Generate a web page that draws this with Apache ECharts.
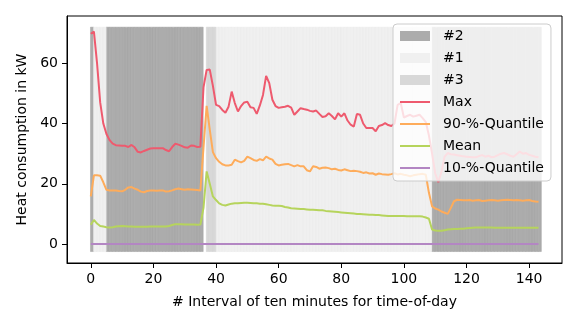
<!DOCTYPE html>
<html>
<head>
<meta charset="utf-8">
<script src="https://cdn.jsdelivr.net/npm/echarts@6/dist/echarts.min.js"></script>
<style>
html,body{margin:0;padding:0;background:#fff;}
#chart{width:581px;height:327px;}
</style>
</head>
<body>
<div id="chart"></div>
<script>
// x positions: interval index of ten minutes (0..143)
const intervals = [
  0,1,2,3,4,5,6,7,8,9,10,11,12,13,14,15,16,17,18,19,20,21,22,23,
  24,25,26,27,28,29,30,31,32,33,34,35,36,37,38,39,40,41,42,43,44,45,46,47,
  48,49,50,51,52,53,54,55,56,57,58,59,60,61,62,63,64,65,66,67,68,69,70,71,
  72,73,74,75,76,77,78,79,80,81,82,83,84,85,86,87,88,89,90,91,92,93,94,95,
  96,97,98,99,100,101,102,103,104,105,106,107,108,109,110,111,112,113,114,115,116,117,118,119,
  120,121,122,123,124,125,126,127,128,129,130,131,132,133,134,135,136,137,138,139,140,141,142,143
];

// cluster of each interval (0 = none)
const clusterOf = [
  2,1,1,1,1,2,2,2,2,2,2,2,2,2,2,2,2,2,2,2,2,2,2,2,
  2,2,2,2,2,2,2,2,2,2,2,2,0,3,3,3,1,1,1,1,1,1,1,1,
  1,1,1,1,1,1,1,1,1,1,1,1,1,1,1,1,1,1,1,1,1,1,1,1,
  1,1,1,1,1,1,1,1,1,1,1,1,1,1,1,1,1,1,1,1,1,1,1,1,
  1,1,1,1,1,1,1,1,1,1,1,1,1,2,2,2,2,2,2,2,2,2,2,2,
  2,2,2,2,2,2,2,2,2,2,2,2,2,2,2,2,2,2,2,2,2,2,2,2
];
const bandTop = 72;
const bandBottom = -2.5;

const maxVals = [
  69.8,70.5,60,47,40,36.5,34.5,33.3,32.8,32.7,32.6,32.6,32.2,32.9,32.1,30.6,30.4,30.9,31.3,31.7,31.8,31.8,31.8,31.8,
  31.2,30.8,32.2,33.3,33,32.6,32.1,32,32.7,32.6,32.2,32.3,52,57.8,57.9,52.5,46.2,45.8,44.5,43.6,45.6,50.6,46.8,44,
  45.8,47,47.2,45.4,45.2,43.2,46,49.5,55.8,53.4,47.9,45.8,45.2,45.4,45.6,45.9,45.3,42.9,44,45.1,44.8,44.6,44.2,44,
  44.3,43.2,42.2,42.4,43.4,42.5,41.4,43.4,42.3,43.4,41,39.6,39,43.2,42.9,40,38.5,38.5,38.5,37.4,39.2,39.5,40.1,39.5,
  39.2,40,46.2,46.8,42,42.5,42.9,42.3,42.6,42.9,41.8,40.5,36,30,23.5,20.5,24,29,30.2,29.8,29.7,29.5,29.3,29.1,
  29,28.9,28.8,28.8,29.2,29.5,29,29.3,28.8,29,29.5,30,30.2,29.8,29.3,29,29.8,30.7,30,30.2,29.6,29.3,29,28.8
];
const q90Vals = [
  15.8,22.8,22.8,22.7,20.5,18,17.8,17.8,17.8,17.6,17.5,18,18.8,18.9,18.4,18,17.4,17.2,17.6,17.8,17.8,17.7,17.8,17.8,
  17.4,17.5,17.8,18.2,18.4,18.2,18,18.2,18.1,18,17.9,17.8,32,45.9,38,30.5,28.5,27.3,26.5,26.1,26.1,26.3,28,27.5,
  27.1,27.6,29,28.5,27.9,27.6,28.2,27.8,29,28.4,28,26.6,26.1,26.3,26.5,26.6,26.2,25.8,26.2,25.8,25.8,24.5,24.1,25.8,
  25.6,25,25.3,25.4,25.2,24.8,25,24.6,24.4,24.8,24.5,24.2,24.3,24.2,24,23.6,23.8,23.4,23.5,23,23.4,23.2,23.1,23,
  23.2,23.5,23.1,23.3,23,22.8,22.5,22.8,23,23.2,23.3,23,17,12.5,11.8,11.4,10.8,10.4,10,12,14.2,14.7,14.6,14.5,
  14.5,14.6,14.4,14.5,14.6,14.3,14.4,14.5,14.6,14.5,14.4,14.5,14.6,14.7,14.6,14.5,14.6,14.5,14.4,14.5,14.6,14.3,14.1,14
];
const meanVals = [
  6.4,8,6.8,6,5.8,5.6,5.5,5.6,5.8,5.9,6,5.9,5.8,5.8,5.7,5.7,5.7,5.7,5.7,5.8,5.8,5.8,5.8,5.8,
  5.8,6,6.3,6.6,6.6,6.6,6.5,6.5,6.5,6.5,6.4,6.5,12,24.1,20,15.8,14.6,13.5,13,12.8,13.1,13.4,13.5,13.5,
  13.6,13.7,13.7,13.6,13.5,13.5,13.4,13.4,13.2,13,12.8,12.7,12.7,12.6,12.3,12.1,11.9,11.8,11.7,11.6,11.6,11.5,11.4,11.4,
  11.3,11.2,11.2,11,10.9,10.8,10.7,10.6,10.5,10.4,10.3,10.2,10.1,10,10,9.9,9.8,9.7,9.7,9.6,9.6,9.5,9.4,9.3,
  9.3,9.3,9.3,9.3,9.3,9.2,9.2,9.2,9.2,9.2,9.1,8.8,8.4,4.8,4.5,4.4,4.4,4.6,4.8,4.9,5,5,5.1,5.1,
  5.2,5.3,5.4,5.5,5.5,5.5,5.5,5.5,5.5,5.4,5.4,5.4,5.4,5.4,5.4,5.4,5.4,5.4,5.4,5.4,5.4,5.4,5.4,5.4
];
const q10Vals = [
  0,0,0,0,0,0,0,0,0,0,0,0,0,0,0,0,0,0,0,0,0,0,0,0,
  0,0,0,0,0,0,0,0,0,0,0,0,0,0,0,0,0,0,0,0,0,0,0,0,
  0,0,0,0,0,0,0,0,0,0,0,0,0,0,0,0,0,0,0,0,0,0,0,0,
  0,0,0,0,0,0,0,0,0,0,0,0,0,0,0,0,0,0,0,0,0,0,0,0,
  0,0,0,0,0,0,0,0,0,0,0,0,0,0,0,0,0,0,0,0,0,0,0,0,
  0,0,0,0,0,0,0,0,0,0,0,0,0,0,0,0,0,0,0,0,0,0,0,0
];

const xTicks = [0,20,40,60,80,100,120,140];
const yTicks = [0,20,40,60];
const clusterNames = {1:'#1', 2:'#2', 3:'#3'};
const clusterColors = {1:'#f0f0f0', 2:'#acacac', 3:'#d8d8d8'};
const clusterEdges = {1:'#ebebeb', 2:'#a2a2a2', 3:'#d2d2d2'};
const lineNames = ['Max','90-%-Quantile','Mean','10-%-Quantile'];
const lineColors = ['#ee5a6e','#feac5b','#b6d45c','#b386c3'];

const FONT = 'DejaVu Sans';
const chart = echarts.init(document.getElementById('chart'), null, {renderer:'canvas'});

function bandSeries(c) {
  const data = [];
  intervals.forEach((x, k) => { if (clusterOf[k] === c) data.push([x, bandTop, bandBottom]); });
  return {
    type: 'custom', name: clusterNames[c], z: 1,
    itemStyle: {color: clusterColors[c]},
    encode: {x: 0, y: [1, 2]},
    data: data,
    renderItem: function (params, api) {
      const x = api.value(0);
      const p0 = api.coord([x - 0.1, api.value(1)]);
      const p1 = api.coord([x + 0.9, api.value(2)]);
      return {
        type: 'rect',
        shape: {x: p0[0], y: p0[1], width: p1[0] - p0[0], height: p1[1] - p0[1]},
        style: {fill: clusterColors[c], stroke: clusterEdges[c], lineWidth: 0.5}
      };
    }
  };
}

const lineData = [maxVals, q90Vals, meanVals, q10Vals];
const lineSeries = lineData.map((vals, j) => ({
  type: 'line', name: lineNames[j], z: 3,
  symbol: 'none', showSymbol: false,
  lineStyle: {color: lineColors[j], width: 2},
  itemStyle: {color: lineColors[j]},
  data: intervals.map((x, k) => [x, vals[k]])
}));

const hiddenSymbol = {color: 'rgba(0,0,0,0)', borderWidth: 0, opacity: 0};

const option = {
  animation: false,
  backgroundColor: '#fff',
  textStyle: {fontFamily: FONT},
  grid: {left: 67, right: 19, top: 16, bottom: 64, show: true, borderColor: '#000', borderWidth: 1, backgroundColor: 'transparent'},
  legend: {
    orient: 'vertical', left: 393, top: 24,
    padding: [5, 7, 6, 6], itemGap: 8, itemWidth: 30, itemHeight: 10,
    backgroundColor: 'rgba(255,255,255,0.8)', borderColor: '#cccccc', borderWidth: 1, borderRadius: 4,
    textStyle: {fontFamily: FONT, fontSize: 14, color: '#000', lineHeight: 14, padding: [0, 0, 0, 8]},
    data: [
      {name: '#2', icon: 'rect'}, {name: '#1', icon: 'rect'}, {name: '#3', icon: 'rect'},
      {name: lineNames[0], itemStyle: hiddenSymbol},
      {name: lineNames[1], itemStyle: hiddenSymbol},
      {name: lineNames[2], itemStyle: hiddenSymbol},
      {name: lineNames[3], itemStyle: hiddenSymbol}
    ]
  },
  xAxis: {
    type: 'value', min: -7.6, max: 150.5,
    name: '# Interval of ten minutes for time-of-day', nameLocation: 'middle', nameGap: 32,
    nameTextStyle: {fontFamily: FONT, fontSize: 14, color: '#000'},
    axisLine: {show: true, onZero: false, lineStyle: {color: '#000', width: 1}},
    axisTick: {show: true, length: 5, customValues: xTicks, lineStyle: {color: '#000'}},
    axisLabel: {customValues: xTicks, fontFamily: FONT, fontSize: 14, color: '#000', margin: 9},
    splitLine: {show: false}
  },
  yAxis: {
    type: 'value', min: -6.3, max: 75.7,
    name: 'Heat consumption in kW', nameLocation: 'middle', nameGap: 36, nameRotate: 90,
    nameTextStyle: {fontFamily: FONT, fontSize: 14, color: '#000'},
    axisLine: {show: true, onZero: false, lineStyle: {color: '#000', width: 1}},
    axisTick: {show: true, length: 5, customValues: yTicks, lineStyle: {color: '#000'}},
    axisLabel: {customValues: yTicks, fontFamily: FONT, fontSize: 14, color: '#000', margin: 9},
    splitLine: {show: false}
  },
  series: [bandSeries(2), bandSeries(1), bandSeries(3)].concat(lineSeries)
};
chart.setOption(option);
</script>
</body>
</html>
